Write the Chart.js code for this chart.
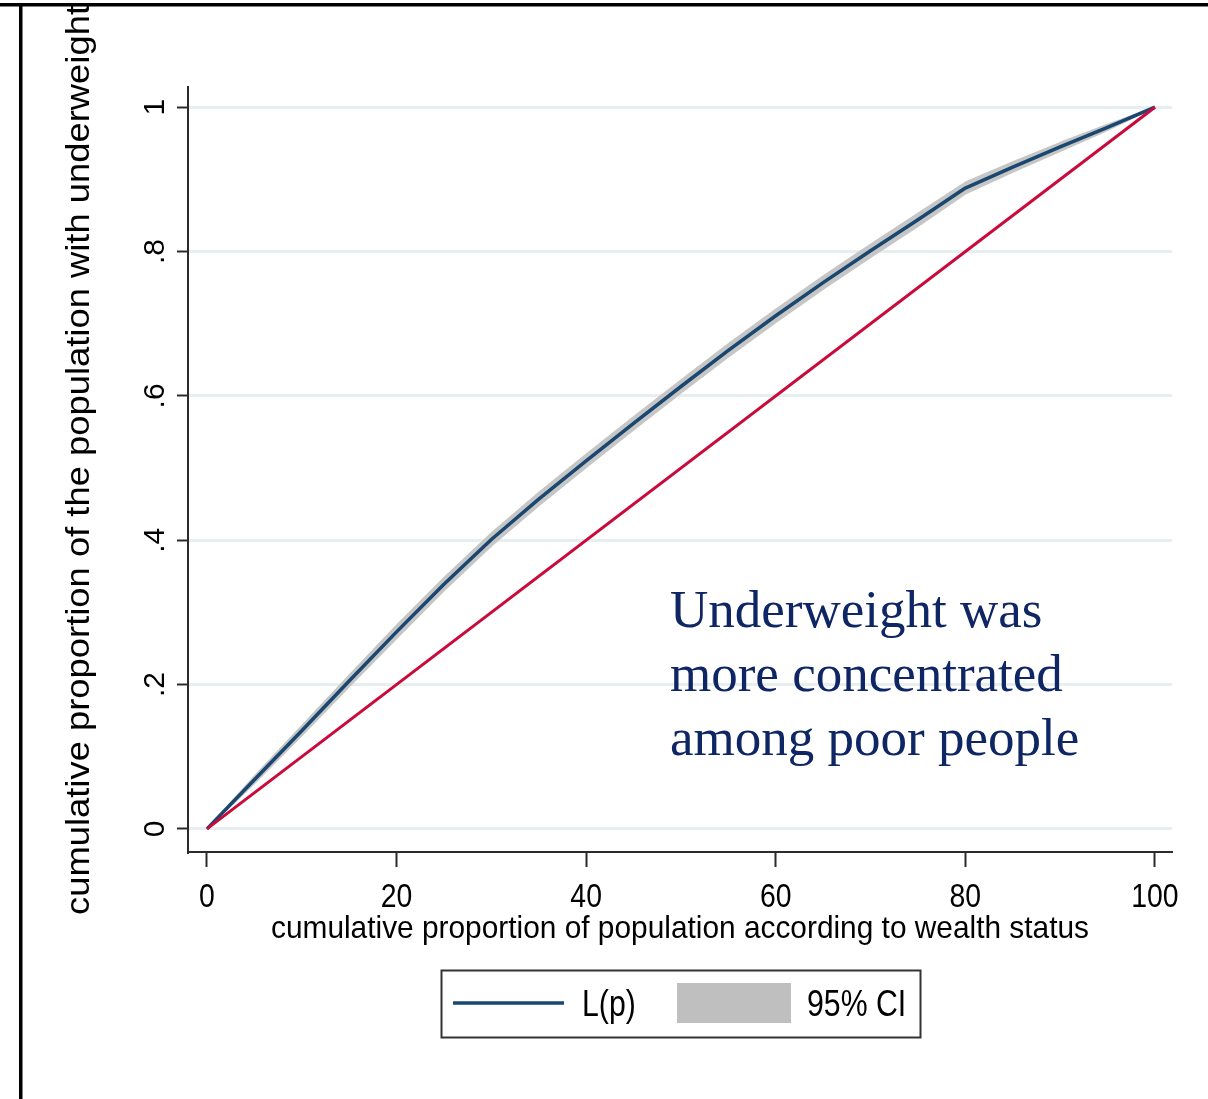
<!DOCTYPE html>
<html>
<head>
<meta charset="utf-8">
<script src="https://cdn.jsdelivr.net/npm/chart.js@4.4.1/dist/chart.umd.min.js"></script>
<style>
  html, body { margin: 0; padding: 0; background: #fff; }
  canvas { display: block; }
</style>
</head>
<body>
<canvas id="lorenz" width="1208" height="1099"></canvas>
<script>
// cumulative % of population (ranked by wealth)
var pop = [0, 5, 10, 15, 20, 25, 30, 35, 40, 45, 50, 55, 60, 65, 70, 75, 80, 85, 90, 95, 100];
// concentration curve L(p)
var lp = [0, 0.068, 0.136, 0.205, 0.273, 0.339, 0.401, 0.457, 0.510, 0.562, 0.613, 0.663, 0.711, 0.757, 0.801, 0.844, 0.888, 0.917, 0.945, 0.972, 1.0];
// 95% CI band
var ciLow = [0, 0.063, 0.129, 0.197, 0.264, 0.330, 0.392, 0.448, 0.501, 0.553, 0.604, 0.654, 0.702, 0.748, 0.792, 0.835, 0.880, 0.910, 0.939, 0.968, 1.0];
var ciHigh = [0, 0.073, 0.143, 0.213, 0.282, 0.348, 0.410, 0.466, 0.519, 0.571, 0.622, 0.672, 0.720, 0.766, 0.810, 0.853, 0.896, 0.924, 0.951, 0.976, 1.0];
// line of equality
var eqPop = [0, 100];
var eqVal = [0, 1];

var xTicks = [0, 20, 40, 60, 80, 100];
var xTickLabels = ['0', '20', '40', '60', '80', '100'];
var yTicks = [0, 0.2, 0.4, 0.6, 0.8, 1];
var yTickLabels = ['0', '.2', '.4', '.6', '.8', '1'];

var xTitle = 'cumulative proportion of population according to wealth status';
var yTitle = 'cumulative proportion of the population with underweight';
var note = ['Underweight was', 'more concentrated', 'among poor people'];
var legendLine = 'L(p)';
var legendBand = '95% CI';

var NAVY = '#1a476f';
var RED = '#c90a3a';
var GREY = '#c6c6c6';
var AXIS = '#2b2b2b';
var SANS = '"Liberation Sans", Arial, sans-serif';

function pts(xs, ys) {
  return xs.map(function (x, i) { return { x: x, y: ys[i] }; });
}

// draw text, optionally squeezed horizontally like the Stata export
function txt(ctx, s, x, y, font, color, align, sx, rot) {
  ctx.save();
  ctx.font = font;
  ctx.fillStyle = color;
  ctx.textAlign = align;
  ctx.textBaseline = 'alphabetic';
  ctx.translate(x, y);
  if (rot) ctx.rotate(rot);
  ctx.scale(sx, 1);
  ctx.fillText(s, 0, 0);
  ctx.restore();
}

var decor = {
  id: 'decor',
  beforeDraw: function (chart) {
    var ctx = chart.ctx;
    ctx.save();
    ctx.fillStyle = '#fff';
    ctx.fillRect(0, 0, chart.width, chart.height);
    ctx.restore();
  },
  afterDraw: function (chart) {
    var ctx = chart.ctx;
    var xs = chart.scales.x, ys = chart.scales.y;
    var area = chart.chartArea;

    // outer frame (top + left)
    ctx.save();
    ctx.fillStyle = '#000';
    ctx.fillRect(0, 3, chart.width, 3.5);
    ctx.fillRect(19, 3, 3.5, chart.height);
    ctx.restore();

    // tick labels
    xTicks.forEach(function (v, i) {
      txt(ctx, xTickLabels[i], xs.getPixelForValue(v), 907, '33px ' + SANS, '#000', 'center', 0.86);
    });
    yTicks.forEach(function (v, i) {
      txt(ctx, yTickLabels[i], 164, ys.getPixelForValue(v), '30px ' + SANS, '#000', 'center', 1, -Math.PI / 2);
    });

    // axis titles, fitted to the original widths
    ctx.font = '32px ' + SANS;
    var wx = ctx.measureText(xTitle).width;
    txt(ctx, xTitle, (area.left + area.right) / 2, 938, '32px ' + SANS, '#000', 'center', 818 / wx);
    ctx.font = '33px ' + SANS;
    var wy = ctx.measureText(yTitle).width;
    txt(ctx, yTitle, 89, 460, '33px ' + SANS, '#000', 'center', 910 / wy, -Math.PI / 2);

    // annotation
    note.forEach(function (s, i) {
      txt(ctx, s, 670, 627 + i * 64, '53px "Liberation Serif", "Times New Roman", serif', '#0e2664', 'left', 1);
    });

    // legend
    ctx.save();
    ctx.strokeStyle = '#333';
    ctx.lineWidth = 2;
    ctx.strokeRect(441.5, 970.5, 479, 67);
    ctx.strokeStyle = NAVY;
    ctx.lineWidth = 3.5;
    ctx.beginPath();
    ctx.moveTo(453, 1003);
    ctx.lineTo(564, 1003);
    ctx.stroke();
    ctx.fillStyle = '#bfbfbf';
    ctx.fillRect(677, 983, 114, 40);
    ctx.restore();
    txt(ctx, legendLine, 582, 1016, '36px ' + SANS, '#000', 'left', 0.84);
    txt(ctx, legendBand, 807, 1016, '36px ' + SANS, '#000', 'left', 0.84);
  }
};

new Chart(document.getElementById('lorenz'), {
  type: 'line',
  data: {
    datasets: [
      { label: 'equality', data: pts(eqPop, eqVal), borderColor: RED, borderWidth: 3, pointRadius: 0, fill: false },
      { label: 'L(p)', data: pts(pop, lp), borderColor: NAVY, borderWidth: 3.5, pointRadius: 0, fill: false },
      { label: 'ci high', data: pts(pop, ciHigh), borderColor: GREY, borderWidth: 1.5, backgroundColor: GREY, pointRadius: 0, fill: '+1' },
      { label: 'ci low', data: pts(pop, ciLow), borderColor: GREY, borderWidth: 1.5, pointRadius: 0, fill: false }
    ]
  },
  options: {
    responsive: false,
    animation: false,
    devicePixelRatio: 1,
    layout: { padding: { left: 148, right: 36, top: 87, bottom: 187 } },
    plugins: {
      legend: { display: false },
      tooltip: { enabled: false }
    },
    elements: { line: { tension: 0, borderJoinStyle: 'round' } },
    scales: {
      x: {
        type: 'linear',
        min: -2,
        max: 101.8,
        afterBuildTicks: function (s) { s.ticks = xTicks.map(function (v) { return { value: v }; }); },
        afterFit: function (s) { s.height = 60; },
        ticks: { display: false },
        grid: { display: true, drawOnChartArea: false, drawTicks: true, tickLength: 15, tickColor: AXIS, tickWidth: 2 },
        border: { display: true, color: AXIS, width: 2 }
      },
      y: {
        type: 'linear',
        min: -0.032,
        max: 1.028,
        afterBuildTicks: function (s) { s.ticks = yTicks.map(function (v) { return { value: v }; }); },
        afterFit: function (s) { s.width = 40; },
        ticks: { display: false },
        grid: { color: '#e6eef0', lineWidth: 3, drawTicks: true, tickLength: 11, tickColor: AXIS, tickWidth: 2 },
        border: { display: true, color: AXIS, width: 2 }
      }
    }
  },
  plugins: [decor]
});
</script>
</body>
</html>
